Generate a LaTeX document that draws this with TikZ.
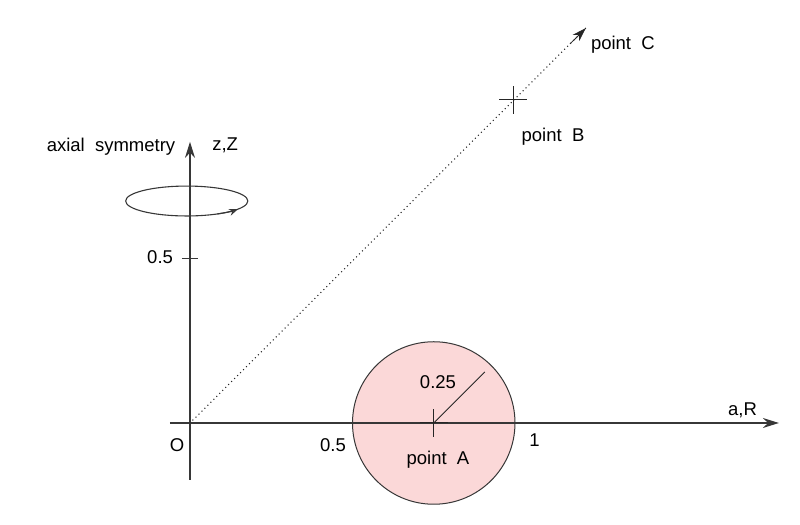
\documentclass[tikz,border=0pt]{standalone}
\usepackage{fontspec}
\setmainfont{Liberation Sans}
\usetikzlibrary{arrows.meta,calc}

\definecolor{diskfill}{RGB}{251,216,216}
\definecolor{linegray}{RGB}{55,55,55}

\begin{document}
\begin{tikzpicture}[
                x=325pt, y=325pt,
                font=\fontsize{18.5}{22}\selectfont,
                axis/.style={draw=linegray, line width=1.3pt, -{Stealth[length=16pt,width=10pt]}},
                tick/.style={draw=linegray, line width=1pt},
                marker/.style={draw=black!85, line width=1pt},
                ray/.style={draw=black!85, line width=1.5pt, line cap=round, dash pattern=on 0pt off 4.2pt},
                label/.style={inner sep=0pt}
            ]
                \useasboundingbox (-0.5846,-0.3108) rectangle (1.8769,1.3015);

                % points of the picture
                \coordinate (O) at (0,0);
                \coordinate (A) at (0.75,0);
                \coordinate (B) at (0.994,0.994);
                \coordinate (C) at (1.218,1.215);
                \coordinate (xstart) at (-0.062,0);
                \coordinate (xend) at (1.812,0);
                \coordinate (ystart) at (0,-0.175);
                \coordinate (yend) at (0,0.865);
                \coordinate (half) at (0,0.505);
                \coordinate (sym) at (-0.01,0.683);
                \coordinate (rim) at ($(A)+(45:0.222)$);

                % the disk
                \draw[draw=linegray, line width=1pt, fill=diskfill] (A) circle[radius=0.25];

                % axes
                \draw[axis] (xstart) -- (xend);
                \draw[axis] (ystart) -- (yend);
                \draw[tick] ([xshift=-8pt]half) -- ([xshift=8pt]half);

                % line to point C
                \draw[ray] (O) -- (C);
                \draw[-{Stealth[length=14pt,width=9pt]}, draw=black!85, line width=0.8pt] ($(O)!0.96!(C)$) -- (C);

                % markers and radius
                \draw[marker] ([xshift=-14pt]A) -- ([xshift=14pt]A);
                \draw[marker] ([yshift=-14pt]A) -- ([yshift=14pt]A);
                \draw[marker] ([xshift=-14pt]B) -- ([xshift=14pt]B);
                \draw[marker] ([yshift=-14pt]B) -- ([yshift=14pt]B);
                \draw[marker] (A) -- (rim);

                % axial symmetry
                \draw[draw=linegray, line width=1.1pt] (sym) ellipse[x radius=0.188, y radius=0.046];
                \draw[draw=linegray, line width=1.1pt, -{Stealth[length=9pt,width=7pt,open]}]
                    ($(sym)+(-60:0.188 and 0.046)$) arc[start angle=-60, end angle=-33, x radius=0.188, y radius=0.046];

                % labels
                \node[label] (lO) at (-0.04,-0.068) {O};
                \node[label] (lhalfx) at (0.44,-0.068) {0.5};
                \node[label] (lone) at (1.06,-0.052) {1};
                \node[label] (lA) at (0.763,-0.114) {point~~A};
                \node[label] (lrad) at (0.763,0.126) {0.25};
                \node[label] (laR) at (1.70,0.04) {a,R};
                \node[label] (lB) at (1.117,0.88) {point~~B};
                \node[label] (lC) at (1.332,1.163) {point~~C};
                \node[label] (lzZ) at (0.108,0.855) {z,Z};
                \node[label] (lsym) at (-0.243,0.849) {axial~~symmetry};
                \node[label] (lhalfy) at (-0.092,0.51) {0.5};
            \end{tikzpicture}
\end{document}
